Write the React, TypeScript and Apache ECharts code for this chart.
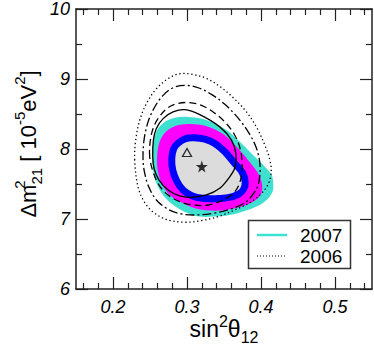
import React, { useEffect, useRef } from "react";
import * as echarts from "echarts";

// Axis ticks
const xMajorTicks = [0.2, 0.3, 0.4, 0.5];
const xMinorTicks = [0.16, 0.18, 0.22, 0.24, 0.26, 0.28, 0.32, 0.34, 0.36, 0.38, 0.42, 0.44, 0.46, 0.48, 0.52, 0.54];
const yMajorTicks = [6, 7, 8, 9, 10];
const yMinorTicks = [6.5, 7.5, 8.5, 9.5];

// 2007 filled regions (sin^2 theta12, dm21^2 [1e-5 eV^2])
const cyan2007 = [
  [0.2532, 7.888], [0.2550, 8.126], [0.2609, 8.292], [0.2699, 8.387], [0.2834, 8.448], [0.3015, 8.458],
  [0.3195, 8.434], [0.3376, 8.363], [0.3556, 8.254], [0.3714, 8.102], [0.3872, 7.936], [0.4030, 7.770],
  [0.4143, 7.628], [0.4165, 7.509], [0.4156, 7.390], [0.4075, 7.272], [0.3940, 7.177], [0.3759, 7.106],
  [0.3579, 7.058], [0.3353, 7.034], [0.3173, 7.034], [0.3037, 7.072], [0.2880, 7.153], [0.2722, 7.286],
  [0.2609, 7.461], [0.2550, 7.651],
];
const magenta2007 = [
  [0.2595, 7.841], [0.2622, 8.078], [0.2699, 8.230], [0.2812, 8.316], [0.2970, 8.354], [0.3150, 8.349],
  [0.3331, 8.301], [0.3511, 8.197], [0.3669, 8.031], [0.3827, 7.841], [0.3962, 7.651], [0.4016, 7.485],
  [0.3994, 7.343], [0.3894, 7.248], [0.3737, 7.177], [0.3534, 7.129], [0.3308, 7.120], [0.3105, 7.153],
  [0.2925, 7.234], [0.2767, 7.343], [0.2668, 7.485], [0.2613, 7.651],
];
const blue2007 = [
  [0.2794, 7.865], [0.2821, 8.007], [0.2884, 8.088], [0.2983, 8.149], [0.3096, 8.159], [0.3240, 8.140],
  [0.3376, 8.078], [0.3511, 7.960], [0.3637, 7.803], [0.3746, 7.666], [0.3786, 7.533], [0.3764, 7.423],
  [0.3691, 7.352], [0.3556, 7.305], [0.3398, 7.291], [0.3209, 7.295], [0.3064, 7.333], [0.2947, 7.414],
  [0.2862, 7.542], [0.2807, 7.699],
];

// 2006 contour lines
const solid2006 = [
  [0.2537, 7.888], [0.2546, 8.126], [0.2586, 8.292], [0.2677, 8.434], [0.2812, 8.529], [0.2970, 8.562],
  [0.3173, 8.490], [0.3443, 8.316], [0.3601, 8.126], [0.3660, 7.936], [0.3651, 7.746], [0.3579, 7.604],
  [0.3443, 7.438], [0.3263, 7.343], [0.3060, 7.310], [0.2902, 7.329], [0.2744, 7.414], [0.2622, 7.556],
  [0.2555, 7.722],
];
const dashed2006 = [
  [0.2496, 7.888], [0.2505, 8.126], [0.2550, 8.316], [0.2631, 8.467], [0.2744, 8.591], [0.2880, 8.652],
  [0.3037, 8.662], [0.3195, 8.624], [0.3353, 8.529], [0.3511, 8.387], [0.3646, 8.197], [0.3723, 7.983],
  [0.3746, 7.746], [0.3723, 7.556], [0.3646, 7.390], [0.3489, 7.272], [0.3286, 7.200], [0.3083, 7.200],
  [0.2902, 7.248], [0.2744, 7.343], [0.2622, 7.485], [0.2541, 7.675],
];
const dashDot2006 = [
  [0.2406, 7.841], [0.2419, 8.126], [0.2474, 8.387], [0.2564, 8.600], [0.2677, 8.766], [0.2812, 8.875],
  [0.2970, 8.909], [0.3150, 8.875], [0.3331, 8.781], [0.3511, 8.638], [0.3678, 8.458], [0.3827, 8.244],
  [0.3931, 8.031], [0.3985, 7.794], [0.3976, 7.556], [0.3917, 7.390], [0.3782, 7.234], [0.3579, 7.139],
  [0.3353, 7.082], [0.3128, 7.058], [0.2925, 7.072], [0.2744, 7.139], [0.2586, 7.272], [0.2483, 7.461],
  [0.2429, 7.651],
];
const dotted2006 = [
  [0.2293, 7.841], [0.2307, 8.126], [0.2361, 8.410], [0.2451, 8.648], [0.2586, 8.861], [0.2744, 9.004],
  [0.2902, 9.075], [0.3083, 9.065], [0.3263, 9.008], [0.3443, 8.894], [0.3624, 8.733], [0.3804, 8.529],
  [0.3949, 8.292], [0.4052, 8.055], [0.4120, 7.841], [0.4138, 7.675], [0.4102, 7.509], [0.4007, 7.367],
  [0.3849, 7.234], [0.3646, 7.129], [0.3421, 7.034], [0.3195, 6.977], [0.2970, 6.954], [0.2744, 6.987],
  [0.2564, 7.082], [0.2429, 7.234], [0.2338, 7.461],
];

const bestFit2007 = [[0.32, 7.75]];
const bestFit2006 = [[0.30, 7.95]];

const legendNames = ["2007", "2006"];

const FONT = "Liberation Sans";
const STAR =
  "path://M0,-1L0.2245,-0.309L0.951,-0.309L0.363,0.118L0.588,0.809L0,0.382L-0.588,0.809L-0.363,0.118L-0.951,-0.309L-0.2245,-0.309Z";

function contour(name: string, pts: number[][], style: any, z: number) {
  return {
    type: "custom",
    name,
    data: pts,
    z,
    silent: true,
    encode: { x: 0, y: 1 },
    renderItem: (params: any, api: any) => {
      if (params.dataIndex !== 0) return null;
      const points = pts.map((p) => api.coord(p));
      return { type: "polygon", shape: { points, smooth: 0.35 }, style };
    },
  };
}

export default function App() {
  const ref = useRef<HTMLDivElement>(null);
  useEffect(() => {
    if (!ref.current) return;
    const chart = echarts.init(ref.current, null, { renderer: "svg" });
    const lineC = "#222";
    const majorTick = (vals: number[]) => ({
      show: true, inside: true, length: 12, customValues: vals, lineStyle: { color: lineC, width: 1.2 },
    });
    const minorTick = (vals: number[]) => ({
      show: true, inside: true, length: 6, customValues: vals, lineStyle: { color: lineC, width: 1.2 },
    });
    const axLine = { show: true, onZero: false, lineStyle: { color: lineC, width: 1.5 } };
    const baseX = { type: "value", min: 0.15, max: 0.55, splitLine: { show: false } };
    const baseY = { type: "value", min: 6, max: 10, splitLine: { show: false } };
    const labelStyle = { fontStyle: "italic", fontSize: 18, color: "#000", fontFamily: FONT };

    chart.setOption({
      animation: false,
      grid: { left: 76, top: 8, right: 2, bottom: 65 },
      xAxis: [
        {
          ...baseX, position: "bottom", axisLine: axLine, axisTick: majorTick(xMajorTicks),
          axisLabel: { show: true, customValues: xMajorTicks, formatter: (v: number) => v.toFixed(1), margin: 9, ...labelStyle },
        },
        { ...baseX, position: "bottom", axisLine: { show: false }, axisTick: minorTick(xMinorTicks), axisLabel: { show: false } },
        { ...baseX, position: "top", axisLine: axLine, axisTick: majorTick(xMajorTicks), axisLabel: { show: false } },
        { ...baseX, position: "top", axisLine: { show: false }, axisTick: minorTick(xMinorTicks), axisLabel: { show: false } },
      ],
      yAxis: [
        {
          ...baseY, position: "left", axisLine: axLine, axisTick: majorTick(yMajorTicks),
          axisLabel: { show: true, customValues: yMajorTicks, formatter: (v: number) => String(v), margin: 6, ...labelStyle },
        },
        { ...baseY, position: "left", axisLine: { show: false }, axisTick: minorTick(yMinorTicks), axisLabel: { show: false } },
        { ...baseY, position: "right", axisLine: axLine, axisTick: majorTick(yMajorTicks), axisLabel: { show: false } },
        { ...baseY, position: "right", axisLine: { show: false }, axisTick: minorTick(yMinorTicks), axisLabel: { show: false } },
      ],
      series: [
        contour("2007", cyan2007, { fill: "#40E0D0", stroke: "none" }, 1),
        contour("2007 m", magenta2007, { fill: "#FF00FF", stroke: "none" }, 2),
        contour("2007 b", blue2007, { fill: "#DCDCDC", stroke: "#0000FF", lineWidth: 7, lineJoin: "round" }, 3),
        contour("2006 s", solid2006, { fill: "none", stroke: "#000", lineWidth: 1.3 }, 4),
        contour("2006 d", dashed2006, { fill: "none", stroke: "#000", lineWidth: 1.3, lineDash: [7, 4] }, 4),
        contour("2006 dd", dashDot2006, { fill: "none", stroke: "#000", lineWidth: 1.3, lineDash: [9, 3, 2, 3] }, 4),
        contour("2006", dotted2006, { fill: "none", stroke: "#000", lineWidth: 1.3, lineDash: [1.3, 2.7] }, 4),
        {
          type: "scatter", data: bestFit2007, symbol: STAR, symbolSize: 12, z: 6,
          itemStyle: { color: "#000" },
        },
        {
          type: "scatter", data: bestFit2006, symbol: "triangle", symbolSize: [9, 8], z: 6,
          itemStyle: { color: "rgba(0,0,0,0)", borderColor: "#000", borderWidth: 1.3 },
        },
      ],
      graphic: [
        {
          type: "rect", z: 10, shape: { x: 248.5, y: 220.5, width: 102, height: 48 },
          style: { fill: "#fff", stroke: "#333", lineWidth: 1.5 },
        },
        { type: "line", z: 11, shape: { x1: 257, y1: 235, x2: 287, y2: 235 }, style: { stroke: "#40E0D0", lineWidth: 2.5 } },
        { type: "line", z: 11, shape: { x1: 257, y1: 256, x2: 287, y2: 256 }, style: { stroke: "#000", lineWidth: 1, lineDash: [1, 2] } },
        {
          type: "text", z: 11, x: 300, y: 235,
          style: { text: legendNames[0], font: `19px "${FONT}"`, fill: "#000", verticalAlign: "middle", align: "left" },
        },
        {
          type: "text", z: 11, x: 300, y: 256,
          style: { text: legendNames[1], font: `19px "${FONT}"`, fill: "#000", verticalAlign: "middle", align: "left" },
        },
        {
          type: "text", z: 11, x: 224, y: 329,
          style: {
            text: "sin{sup|2}θ{sub|12}", fill: "#000", align: "center", verticalAlign: "middle",
            fontFamily: FONT, fontSize: 23, lineHeight: 32,
            rich: {
              sup: { fontSize: 16, fontFamily: FONT, verticalAlign: "top", fill: "#000" },
              sub: { fontSize: 16, fontFamily: FONT, verticalAlign: "bottom", fill: "#000" },
            },
          },
        },
        {
          type: "text", z: 11, x: 28, y: 144, rotation: Math.PI / 2,
          style: {
            text: "Δm{s0|2}{sub|21} [ 10{sup|-5}eV{sup|2}]", fill: "#000", align: "center", verticalAlign: "middle",
            fontFamily: FONT, fontSize: 22, lineHeight: 32,
            rich: {
              s0: { fontSize: 15, fontFamily: FONT, verticalAlign: "top", width: 0, fill: "#000" },
              sup: { fontSize: 15, fontFamily: FONT, verticalAlign: "top", fill: "#000" },
              sub: { fontSize: 15, fontFamily: FONT, verticalAlign: "bottom", fill: "#000" },
            },
          },
        },
      ],
    });
    return () => chart.dispose();
  }, []);
  return (
    <div
      ref={ref}
      style={{ position: "fixed", left: 0, top: 0, width: 374, height: 354, background: "#fff" }}
    />
  );
}
